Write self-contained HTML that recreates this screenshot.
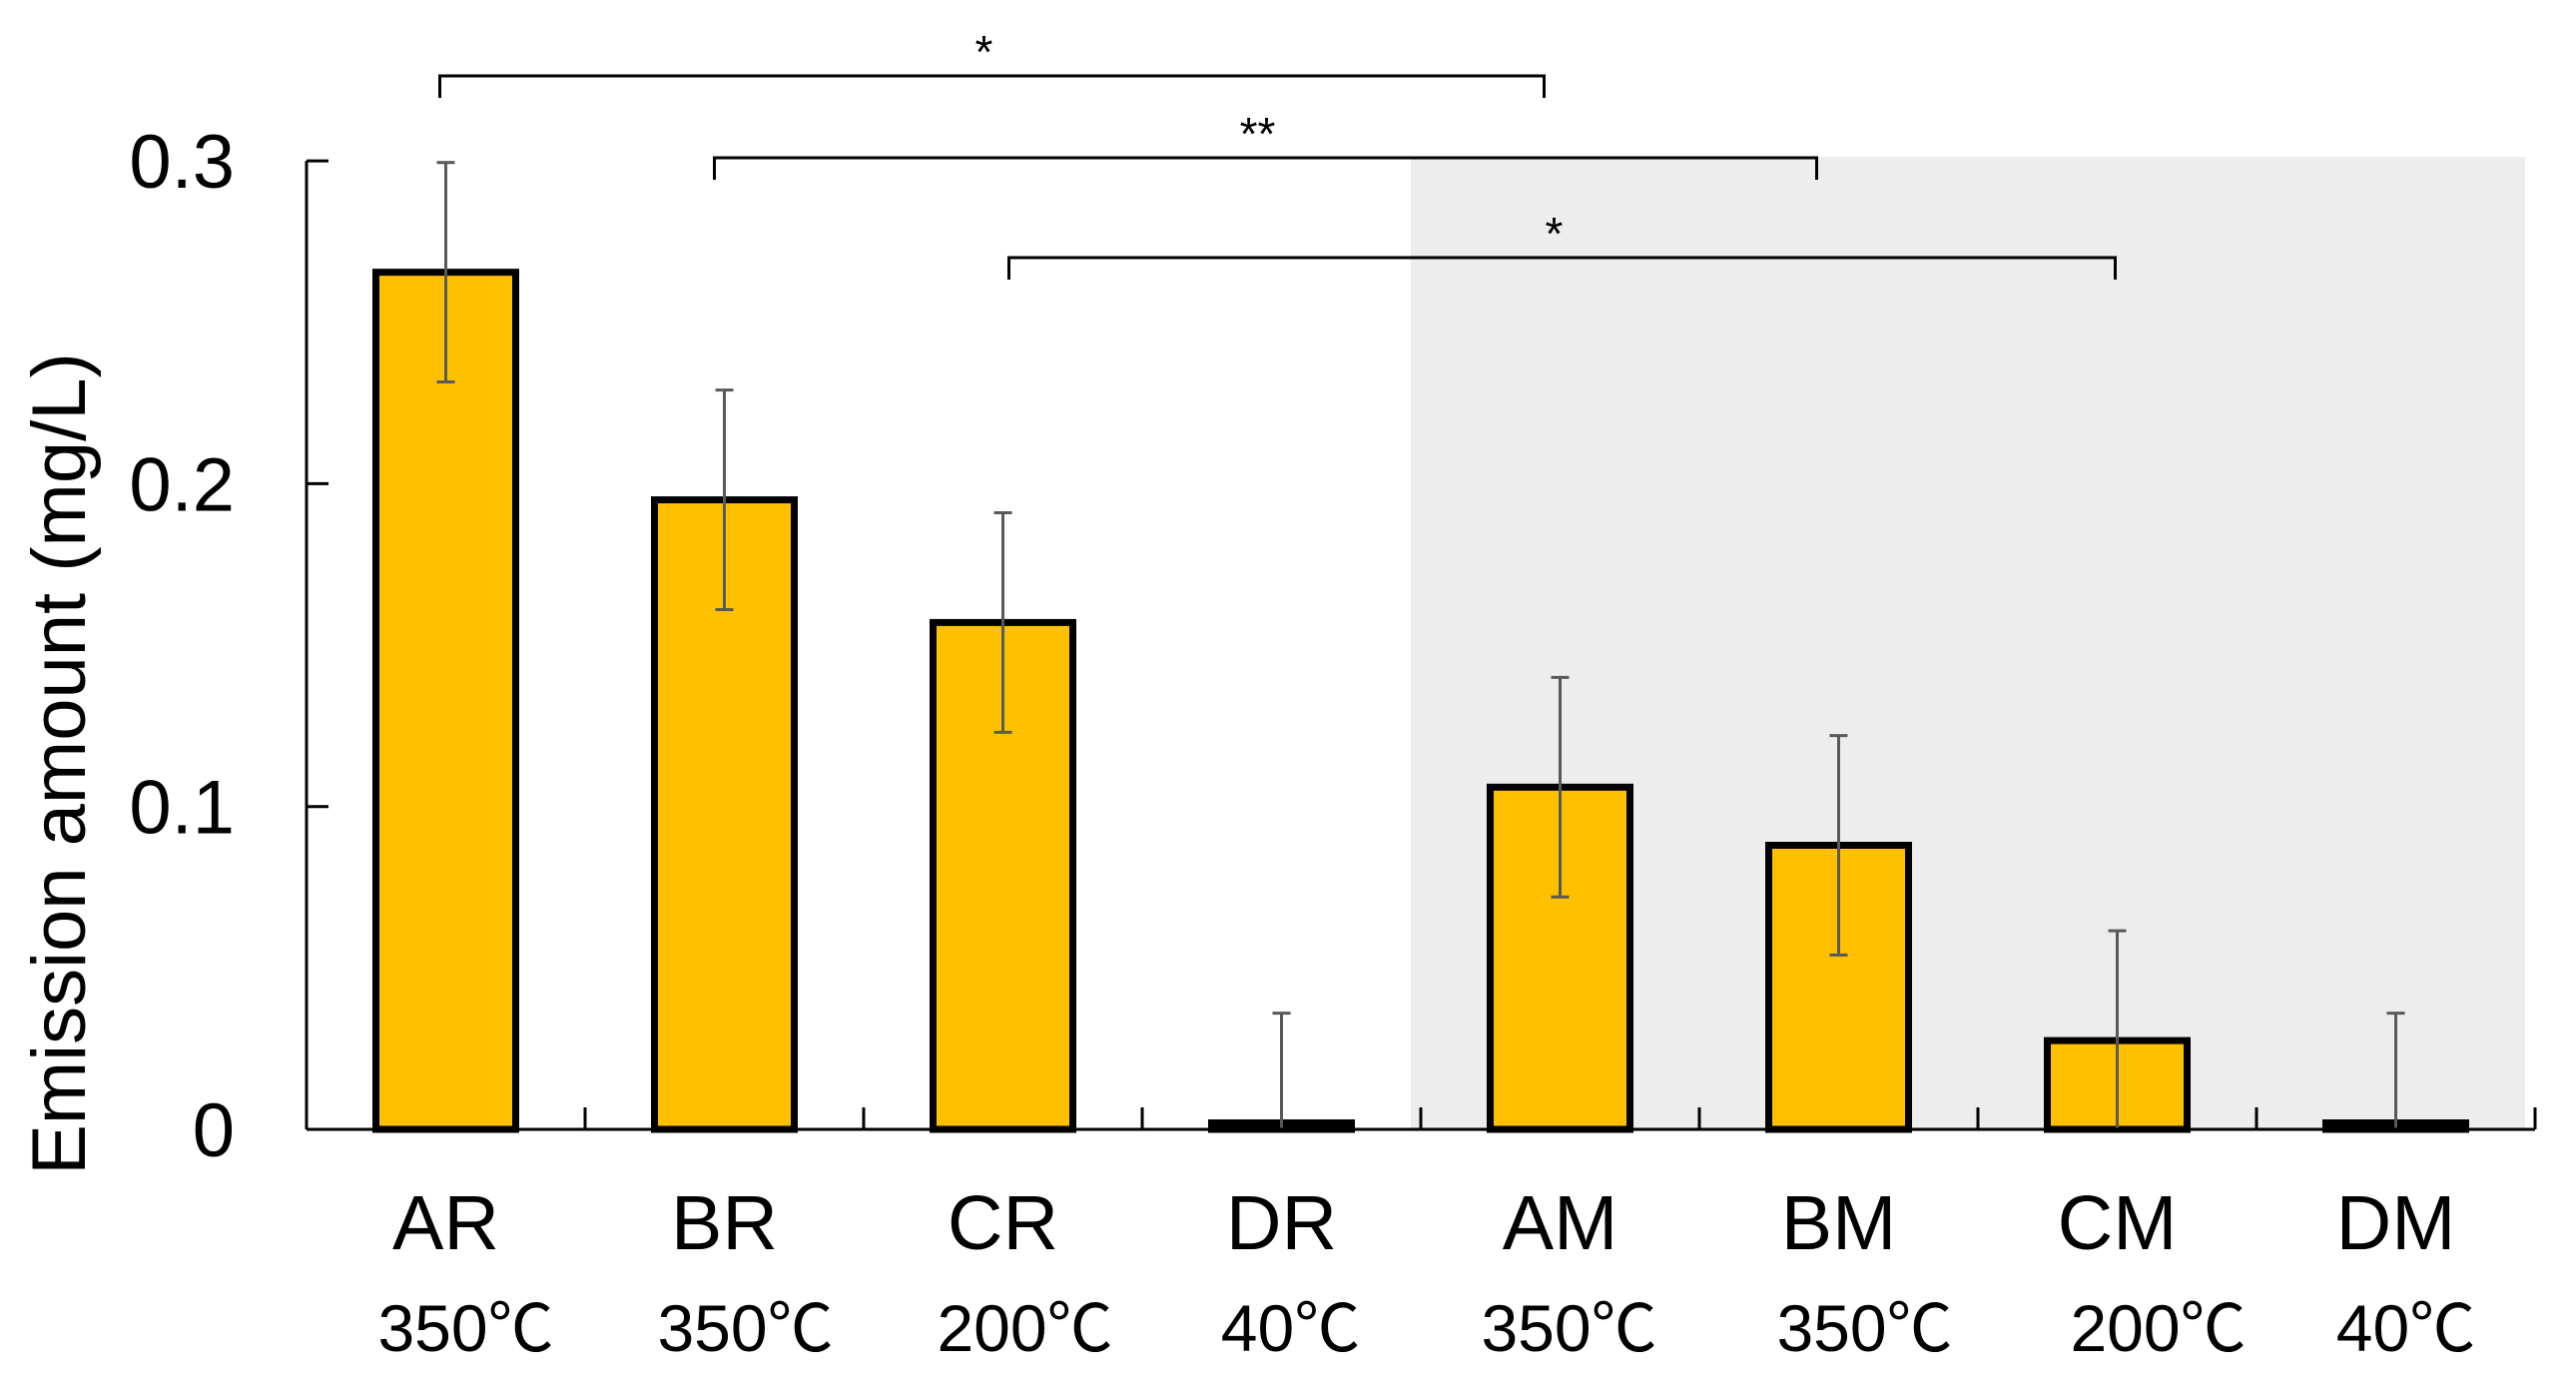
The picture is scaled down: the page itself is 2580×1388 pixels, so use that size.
<!DOCTYPE html>
<html><head><meta charset="utf-8"><style>
html,body{margin:0;padding:0;background:#fff;}
svg{display:block;}
text{font-family:"Liberation Sans","Noto Sans CJK JP",sans-serif;fill:#000;}
</style></head><body>
<svg id="chart" width="2580" height="1388" viewBox="0 0 2580 1388" xmlns="http://www.w3.org/2000/svg">
<rect x="1413" y="157" width="1116" height="974" fill="#ededed"/>
<g id="brackets"></g>
<g id="bars"></g>
<g id="axes"></g>
<g id="labels"></g>
<text transform="translate(85,765) rotate(-90)" text-anchor="middle" font-size="76">Emission amount (mg/L)</text>
</svg>
<script>
const categories = ["AR","BR","CR","DR","AM","BM","CM","DM"];
const temps = ["350℃","350℃","200℃","40℃","350℃","350℃","200℃","40℃"];
const values = [0.2655,0.195,0.157,0.002,0.106,0.088,0.0275,0.002];
const errors = [0.034,0.034,0.034,0.034,0.034,0.034,0.034,0.034];
const yTicks = [0,0.1,0.2,0.3];
const yTickLabels = ["0","0.1","0.2","0.3"];
const sigFrom = [0,1,2];
const sigTo = [4,5,6];
const sigLabels = ["*","**","*"];

const NS="http://www.w3.org/2000/svg";
const x0=307, catW=279, y0=1131, yScale=3233;
const xc = i => x0 + catW*(i+0.5);
const y = v => y0 - v*yScale;
function mk(tag, attrs, parent){const e=document.createElementNS(NS,tag);for(const k in attrs)e.setAttribute(k,attrs[k]);parent.appendChild(e);return e;}
const bars=document.getElementById('bars'), axes=document.getElementById('axes'), labels=document.getElementById('labels'), br=document.getElementById('brackets');
const tempOff=[20,21,22,9,9,26,41,10];

values.forEach((v,i)=>{
  const r=mk('rect',{x:xc(i)-70,y:y(v),width:140,height:y0-y(v),fill:'#ffc000',stroke:'#000','stroke-width':7},bars);
  
  
  const top=y(v+errors[i]), bot=y(Math.max(0,v-errors[i]));
  const g=mk('g',{stroke:'#595959','stroke-width':3},bars);
  
  
  mk('line',{x1:xc(i),x2:xc(i),y1:top,y2:bot},g);
  mk('line',{x1:xc(i)-9,x2:xc(i)+9,y1:top,y2:top},g);
  if(v-errors[i]>0) mk('line',{x1:xc(i)-9,x2:xc(i)+9,y1:bot,y2:bot},g);
  const t=mk('text',{x:xc(i),y:1251,'text-anchor':'middle','font-size':77},labels);
  t.textContent=categories[i];
  
  
  const t2=mk('text',{x:xc(i)+tempOff[i],y:1353,'text-anchor':'middle','font-size':66},labels);
  t2.textContent=temps[i];
  
  
});

const ya=mk('line',{x1:x0,x2:x0,y1:y(0.3),y2:y0,stroke:'#000','stroke-width':3},axes);


const xa=mk('line',{x1:x0,x2:x0+catW*categories.length,y1:y0,y2:y0,stroke:'#000','stroke-width':3},axes);


for(let i=1;i<=categories.length;i++){
  const tk=mk('line',{x1:x0+catW*i,x2:x0+catW*i,y1:y0,y2:y0-22,stroke:'#000','stroke-width':3},axes);
  
  
}
yTicks.forEach((v,i)=>{
  const tk=mk('line',{x1:x0,x2:x0+22,y1:y(v),y2:y(v),stroke:'#000','stroke-width':3},axes);
  
  
  const t=mk('text',{x:235,y:y(v)+27,'text-anchor':'end','font-size':76},labels);
  t.textContent=yTickLabels[i];
  
  
});

const bY=[76,158,258];
const lOff=[-6,-10,6], rOff=[-16,-22,-2];
sigFrom.forEach((a,k)=>{
  const b=sigTo[k], xa1=xc(a)+lOff[k], xb=xc(b)+rOff[k];
  const p=mk('path',{d:`M${xa1},${bY[k]+22} V${bY[k]} H${xb} V${bY[k]+22}`,fill:'none',stroke:'#000','stroke-width':3},br);
  
  
  const t=mk('text',{x:(xa1+xb)/2-8,y:bY[k]-8,'text-anchor':'middle','font-size':46},br);
  t.textContent=sigLabels[k];
  
  
});
</script>
</body></html>
